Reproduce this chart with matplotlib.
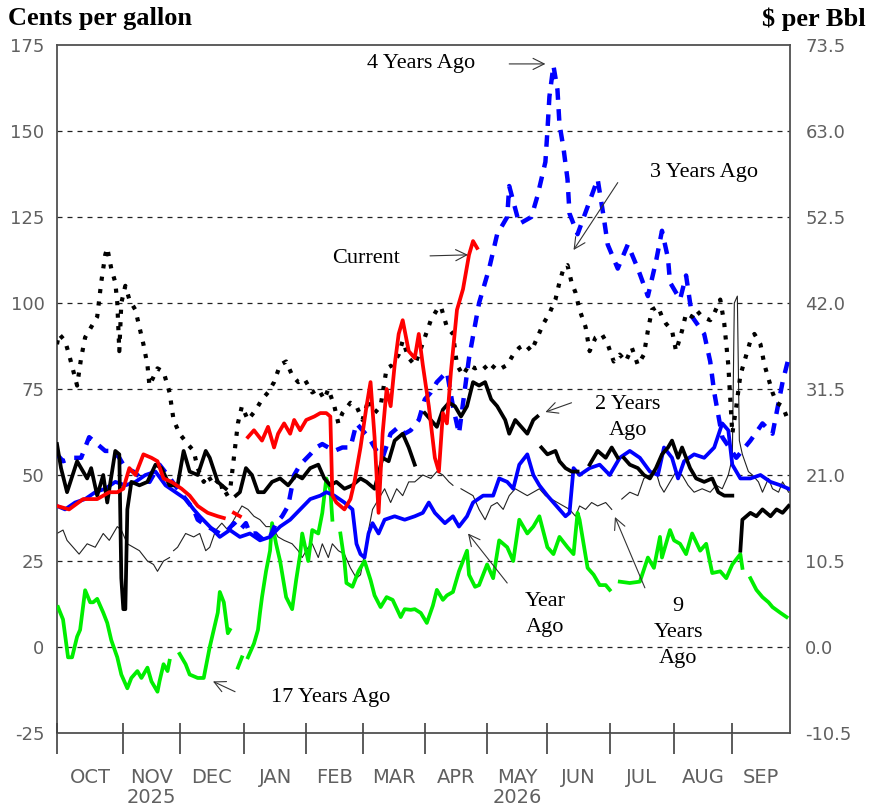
import numpy as np
import matplotlib
matplotlib.use("Agg")
import matplotlib.pyplot as plt

plt.rcParams['axes.unicode_minus'] = False

######## AXIS SETUP ########

MONTH_STARTS = [0, 33, 61, 93, 124, 152, 183, 214, 244, 275, 307, 336]
X_END = 364.7
MONTH_LABELS = ['OCT', 'NOV\n2025', 'DEC', 'JAN', 'FEB', 'MAR', 'APR',
                'MAY\n2026', 'JUN', 'JUL', 'AUG', 'SEP']
LEFT_TICKS = [-25, 0, 25, 50, 75, 100, 125, 150, 175]
RIGHT_TICKS = [-10.5, 0, 10.5, 21, 31.5, 42, 52.5, 63, 73.5]
GRID_LEVELS = [0, 25, 50, 75, 100, 125, 150]

NAN = np.nan

######## SERIES (day since Oct 1, cents per gallon) ########

CURRENT = [(0, 41), (6, 40), (13, 43), (20, 43), (26, 45), (30, 45), (33, 46), (36, 52),
           (39, 50), (43, 56), (47, 55), (50, 54), (53, 49), (57, 48), (62, 46), (66, 44),
           (70, 41), (75, 39), (80, 38), (83, 37.5), (85, NAN), (88, 39), (91, 38), (93, NAN),
           (95, 61), (98, 63), (102, 60), (105, 64), (108, 58), (110, 62), (113, 65), (116, 62),
           (118, 66), (121, 63), (124, 66), (128, 67), (131, 68), (134, 68), (136, 67), (137, 44),
           (139, 42), (143, 40), (146, 43), (148, 48), (151, 58), (154, 70), (156, 77), (158, 61),
           (160, 39), (162, 62), (164, 75), (166, 70), (168, 82), (170, 91), (172, 95), (175, 86),
           (178, 84), (180, 91), (182, 82), (185, 70), (188, 55), (190, 51), (192, 68), (194, 65),
           (196, 80), (199, 98), (202, 104), (205, 114), (207, 118), (209, 116)]

YEAR_AGO = [(0, 41), (4, 40), (9, 42), (14, 43), (19, 45), (24, 46), (29, 48), (34, 47),
            (39, 48), (44, 50), (49, 51), (54, 47), (59, 45), (64, 43), (68, 40), (71, 38),
            (76, 35), (81, 32), (86, 34), (91, 32), (96, 33), (101, 31), (106, 32), (111, 35),
            (116, 37), (121, 40), (126, 43), (131, 44), (134, 45), (138, 44), (143, 42), (147, 40),
            (149, 30), (151, 27), (153, 26), (155, 33), (157, 36), (160, 33), (163, 37), (168, 38),
            (173, 37), (178, 38), (182, 39), (185, 42), (188, 39), (193, 36), (197, 38), (200, 35),
            (204, 38), (207, 42), (212, 44), (217, 44), (220, 49), (224, 48), (227, 46), (230, 53),
            (234, 56), (237, 50), (240, 47), (244, 44), (247, 42), (250, 40), (253, 38), (255, 39),
            (257, 52), (260, 50), (265, 52), (270, 53), (275, 50), (280, 55), (285, 57), (290, 55),
            (295, 51), (299, 50), (302, 58), (306, 55), (309, 49), (312, 54), (317, 56), (322, 55),
            (327, 58), (331, 65), (334, 63), (336, 53), (340, 49), (345, 49), (350, 50), (355, 48),
            (360, 47), (364, 46)]

TWO_YEARS = [(0, 59), (2, 52), (5, 45), (10, 54), (15, 49), (17, 52), (20, 44), (23, 50),
             (25, 42), (29, 57), (31, 56), (32, 20), (33, 11), (34, 11), (35, 40), (37, 48),
             (41, 47), (45, 48), (49, 53), (52, 52), (56, 47), (60, 47), (63, 57), (66, 51),
             (70, 50), (74, 57), (76, 55), (80, 48), (84, 46), (86, NAN), (89, 44), (91, 45),
             (94, 52), (97, 50), (100, 45), (103, 45), (107, 48), (111, 49), (115, 47), (119, 50),
             (122, 49), (126, 52), (130, 53), (133, 49), (136, 47), (139, 48), (143, 46), (147, 47),
             (151, 49), (154, 48), (158, 46), (162, 55), (165, 54), (168, 60), (172, 62), (175, 58),
             (178, 53), (180, NAN), (183, 68), (186, 66), (189, 64), (192, 69), (195, 71), (198, 70),
             (201, 67), (204, 70), (207, 77), (210, 76), (213, 77), (216, 72), (219, 70), (223, 66),
             (225, 62), (228, 66), (231, 64), (234, 62), (237, 66), (239, 67), (240, NAN), (241, 58),
             (244, 56), (248, 57), (250, 54), (253, 52), (256, 51), (259, 51), (262, NAN), (265, 53),
             (269, 57), (273, 55), (276, 58), (279, 55), (280, NAN), (282, 55), (285, 53), (289, 52),
             (292, 50), (295, 49), (298, 52), (301, 56), (304, 58), (306, 60), (309, 55), (311, 58),
             (315, 52), (318, 49), (322, 48), (326, 49), (329, 45), (332, 44), (336, 44), (338, NAN),
             (340, 28), (341, 37), (345, 39), (348, 38), (351, 40), (355, 38), (358, 40), (361, 39),
             (364, 41)]

THREE_YEARS = [(0, 88), (1, 91), (4, 89), (6, 85), (10, 76), (12, 84), (14, 90), (17, 93),
               (20, 96), (22, 106), (24, 114), (25, 116), (27, 110), (29, 106), (30, 100), (31, 86),
               (32, 100), (34, 105), (36, 101), (39, 98), (43, 88), (45, 82), (46, 76), (50, 81),
               (53, 80), (56, 74), (58, 66), (61, 62), (65, 59), (68, 57), (70, 52), (73, 48),
               (75, 50), (78, 47), (81, 49), (83, 44), (86, 45), (88, 55), (90, 65), (92, 70),
               (95, 66), (99, 69), (102, 72), (105, 74), (108, 77), (111, 82), (114, 83), (117, 79),
               (120, 77), (123, 78), (127, 74), (130, 75), (133, 72), (135, 75), (138, 70), (140, 65),
               (142, 68), (146, 71), (149, 70), (152, 66), (155, 72), (158, 68), (161, 70), (164, 81),
               (167, 82), (170, 85), (172, 89), (175, 84), (178, 82), (180, 85), (183, 90), (186, 95),
               (189, 98), (191, 99), (194, 93), (197, 91), (199, 82), (202, 79), (205, 82), (208, 81),
               (212, 82), (215, 80), (218, 82), (221, 81), (224, 82), (227, 85), (230, 87), (233, 88),
               (236, 86), (239, 90), (242, 94), (245, 97), (248, 101), (250, 106), (252, 110), (254, 111),
               (256, 106), (258, 103), (260, 98), (263, 93), (265, 86), (268, 90), (271, 91), (274, 88),
               (277, 83), (280, 85), (283, 83), (286, 87), (289, 82), (292, 85), (294, 92), (296, 98),
               (299, 99), (301, 96), (303, 94), (306, 92), (308, 86), (311, 92), (313, 97), (316, 96),
               (318, 98), (321, 96), (325, 95), (327, 97), (330, 101), (332, 94), (333, 88), (334, 82),
               (335, 72), (336, 62), (338, 70), (340, 79), (342, 83), (345, 89), (347, 91), (350, 88),
               (352, 82), (354, 78), (356, 74), (358, 71), (361, 70), (363, 67)]

FOUR_YEARS = [(0, 56), (3, 54), (8, 55), (12, 55), (16, 61), (20, 59), (24, 57), (28, 57),
              (31, 55), (34, 52), (38, 51), (42, 49), (46, 48), (51, 53), (55, 50), (60, 46),
              (64, 43), (68, 40), (70, 37), (75, 35), (78, 34), (81, 33), (85, 34), (88, 36),
              (91, 34), (94, 36), (96, 33), (99, 33), (103, 31), (106, 32), (109, 36), (112, 38),
              (115, 41), (118, 50), (121, 53), (126, 56), (129, 58), (132, 59), (135, 58), (138, 57),
              (142, 58), (146, 58), (149, 65), (152, 63), (155, 61), (159, 57), (162, 55), (166, 62),
              (170, 64), (173, 62), (176, 63), (180, 66), (183, 72), (186, 74), (189, 77), (194, 80),
              (197, 70), (200, 62), (205, 84), (210, 100), (215, 110), (219, 120), (224, 125),
              (225, 134), (230, 123), (236, 125), (239, 131), (243, 141), (244, 150), (245, 160),
              (247, 169), (249, 162), (250, 152), (252, 145), (254, 136), (255, 126), (259, 120),
              (264, 128), (269, 136), (272, 125), (274, 117), (279, 110), (284, 117), (289, 110),
              (294, 102), (298, 112), (301, 121), (304, 113), (305, 106), (310, 101), (313, 108),
              (316, 96), (322, 91), (325, 83), (327, 74), (331, 61), (338, 55), (345, 60), (351, 65),
              (356, 62), (361, 77), (364, 84)]

NINE_YEARS = [(0, 33), (3, 34), (5, 31), (8, 29), (11, 27), (15, 30), (19, 29), (23, 33),
              (26, 31), (30, 35), (32, 34), (35, 30), (38, 29), (41, 28), (45, 25), (48, 24),
              (50, 22), (53, 25), (56, 26), (57, NAN), (58, 28), (60, 29), (64, 33), (68, 32),
              (71, 33), (74, 28), (76, 29), (79, 34), (82, 36), (85, 34), (89, 38), (92, 41),
              (95, 40), (98, 38), (101, 37), (104, 35), (107, 35), (110, 32), (113, 31), (117, 30),
              (120, 28), (122, 26), (125, 29), (127, 30), (130, 26), (132, 30), (135, 26), (137, 30),
              (140, 28), (143, 27), (146, 23), (149, 20), (151, 21), (153, 27), (155, 34), (157, 40),
              (160, 43), (163, 46), (166, 42), (169, 46), (172, 44), (175, 48), (178, 48), (182, 50),
              (186, 49), (189, 51), (192, 50), (195, 48), (197, 47), (199, NAN), (201, 46), (204, 45),
              (207, 44), (210, 40), (213, 37), (216, 41), (219, 42), (222, 40), (225, 44), (228, 46),
              (231, 45), (234, 44), (237, 45), (240, 46), (243, 44), (246, 43), (249, 42), (252, 41),
              (255, 40), (258, 38), (260, 41), (263, 40), (266, 42), (269, 41), (273, 42), (276, 40),
              (278, NAN), (281, 43), (285, 45), (289, 44), (292, 49), (295, 50), (298, 51), (300, 47),
              (302, 45), (305, 48), (308, 51), (311, 50), (314, 47), (317, 45), (321, 46), (325, 45),
              (328, 47), (331, 46), (334, 50), (336, 55), (337, 100), (338.5, 102), (339.5, 60),
              (341, 56), (344, 51), (346, 50), (349, 48), (351, 45), (354, 49), (356, 46), (359, 45),
              (361, 48), (364, 45)]

SEVENTEEN_YEARS = [(0.5, 11.6), (3, 8), (5.5, -3), (7.5, -3), (10, 3), (11.5, 5), (14, 16.5),
                   (16.5, 13), (18, 13), (20, 14), (23, 10), (25, 7), (27, 2), (30, -3), (32, -8),
                   (35, -12), (37, -9), (40, -7), (42, -9), (45, -6), (47, -10), (50, -13), (51, -10),
                   (53, -5), (55, -7), (56, -4), (58, NAN), (61, -2), (64, -5), (66, -8), (70, -9),
                   (73, -9), (75, -3), (76, 0), (78, 5), (80, 10), (81, 16), (83, 13), (85, 4),
                   (86, 5), (88, NAN), (90, -6), (92, -3), (93.5, NAN), (95, -3), (98, 1), (100, 5),
                   (101, 10), (102, 14.5), (104, 22), (106, 28), (107, 36), (109, 30), (111, 25),
                   (113, 18), (114, 14.5), (117, 11), (119, 19.5), (121, 27), (122, 33), (125, 25),
                   (127, 34), (130, 33), (132, 39), (134, 49), (136, 45.6), (137, 37), (139, NAN),
                   (141, 33), (143, 25), (144, 18.6), (147, 17.5), (150, 22), (152, 24), (153, 25),
                   (156, 19.5), (158, 15), (161, 11.6), (164, 14.5), (167, 13.7), (171, 8.7), (173, 11),
                   (176, 10.8), (178, 11), (181, 9.9), (184, 7), (187, 12), (189, 16.6), (192, 13.7),
                   (194, 15), (197, 16), (200, 22), (204, 28), (205, 21), (208, 17.5), (210, 18),
                   (214, 24), (217, 20), (220, 31), (224, 29), (227, 25), (230, 37), (234, 33),
                   (237, 35), (240, 38), (244, 29), (247, 27), (250, 32), (254, 29), (257, 27),
                   (259, 39), (260, 37), (264, 23), (267, 21), (270, 18), (273, 18), (275, 16.6),
                   (277, NAN), (280, 19), (285, 18.6), (290, 19), (294, 26), (297, 23), (300, 32),
                   (301, 26), (305, 34), (307, 31), (310, 30), (313, 27), (316, 33), (320, 28),
                   (323, 30), (326, 21.5), (330, 22), (333, 20), (336, 24), (340, 27), (341, 23),
                   (343, NAN), (345, 20), (348, 16.6), (351, 14.5), (354, 13), (356, 11.6), (360, 9.9),
                   (363, 8.7)]

######## LABELS: (text, day, value) and arrows: (tail, head) ########

LABELS = [('4 Years Ago', 181, 169.5), ('3 Years Ago', 322, 138), ('Current', 154, 113),
          ('2 Years\nAgo', 284, 66.7), ('Year\nAgo', 243, 9.5), ('9\nYears\nAgo', 309, 4.2),
          ('17 Years Ago', 136, -14.8)]
ARROWS = [((225, 169.5), (243, 169.5)), ((279, 135), (257, 115.4)), ((185.6, 113.7), (204.5, 114)),
          ((256, 71), (243, 68.3)), ((224, 18.6), (204.5, 33)), ((292.5, 17.2), (277.6, 37.8)),
          ((88.6, -13), (77.6, -10))]


def unzip(pairs):
    d = np.array([p[0] for p in pairs], dtype=float)
    v = np.array([p[1] for p in pairs], dtype=float)
    return d, v


fig = plt.figure(figsize=(8.69, 8.06), dpi=100)
ax = fig.add_axes([57 / 869, 1 - 733 / 806, 733 / 869, 688 / 806])
ax.set_xlim(0, X_END)
ax.set_ylim(-25, 175)

for lv in GRID_LEVELS:
    ax.axhline(lv, color='#222222', lw=0.9, dashes=(4, 4), zorder=1)

# series
d, v = unzip(NINE_YEARS)
ax.plot(d, v, color='#222222', lw=0.8, zorder=2)
d, v = unzip(SEVENTEEN_YEARS)
ax.plot(d, v, color='#00ee00', lw=2.7, zorder=3)
d, v = unzip(FOUR_YEARS)
ax.plot(d, v, color='#0000ff', lw=3.2, dashes=(2.6, 2.1), dash_capstyle='butt', zorder=4)
d, v = unzip(THREE_YEARS)
ax.plot(d, v, color='black', lw=3, dashes=(1, 2), dash_capstyle='butt', zorder=5)
d, v = unzip(YEAR_AGO)
ax.plot(d, v, color='#0000ff', lw=2.7, zorder=6)
d, v = unzip(TWO_YEARS)
ax.plot(d, v, color='black', lw=2.7, zorder=7)
d, v = unzip(CURRENT)
ax.plot(d, v, color='#ff0000', lw=2.7, zorder=8)

for txt, x, y in LABELS:
    ax.text(x, y, txt, ha='center', va='center', fontsize=16, family='Liberation Serif',
            linespacing=1.5, zorder=10)
for tail, head in ARROWS:
    ax.annotate('', xy=head, xytext=tail,
                arrowprops=dict(arrowstyle='->', lw=0.8, color='#333333',
                                mutation_scale=20, shrinkA=0, shrinkB=0), zorder=10)

# axes styling
for s in ax.spines.values():
    s.set_color('#505050')
    s.set_linewidth(1.3)

ax.set_yticks(LEFT_TICKS)
ax.set_yticklabels([str(t) for t in LEFT_TICKS])
ax.tick_params(axis='y', length=0, pad=9, labelsize=13, labelcolor='#606060')

ax.set_xticks(MONTH_STARTS)
ax.set_xticklabels([])
ax.tick_params(axis='x', which='major', direction='out', length=15, width=1.2, color='#404040')
mids = [(a + b) / 2 for a, b in zip(MONTH_STARTS, MONTH_STARTS[1:] + [X_END])]
ax.set_xticks(mids, minor=True)
ax.set_xticklabels(MONTH_LABELS, minor=True, fontsize=14, color='#606060', va='top',
                   linespacing=1.1)
ax.tick_params(axis='x', which='minor', length=0, pad=25)
ax.vlines(MONTH_STARTS, -25, -22.1, color='#404040', lw=1.2, zorder=9, clip_on=False)

ax2 = ax.twinx()
ax2.set_ylim(-10.5, 73.5)
ax2.set_yticks(RIGHT_TICKS)
ax2.set_yticklabels(['%.1f' % t for t in RIGHT_TICKS])
ax2.tick_params(axis='y', length=0, pad=11, labelsize=13, labelcolor='#606060')
for s in ax2.spines.values():
    s.set_visible(False)

fig.text(8 / 869, 1 - 19 / 806, 'Cents per gallon', fontsize=19, fontweight='bold',
         family='Liberation Serif', ha='left', va='center')
fig.text(866 / 869, 1 - 19 / 806, r'\$ per Bbl', fontsize=19, fontweight='bold',
         family='Liberation Serif', ha='right', va='center')

fig.savefig('out.png', dpi=100)
